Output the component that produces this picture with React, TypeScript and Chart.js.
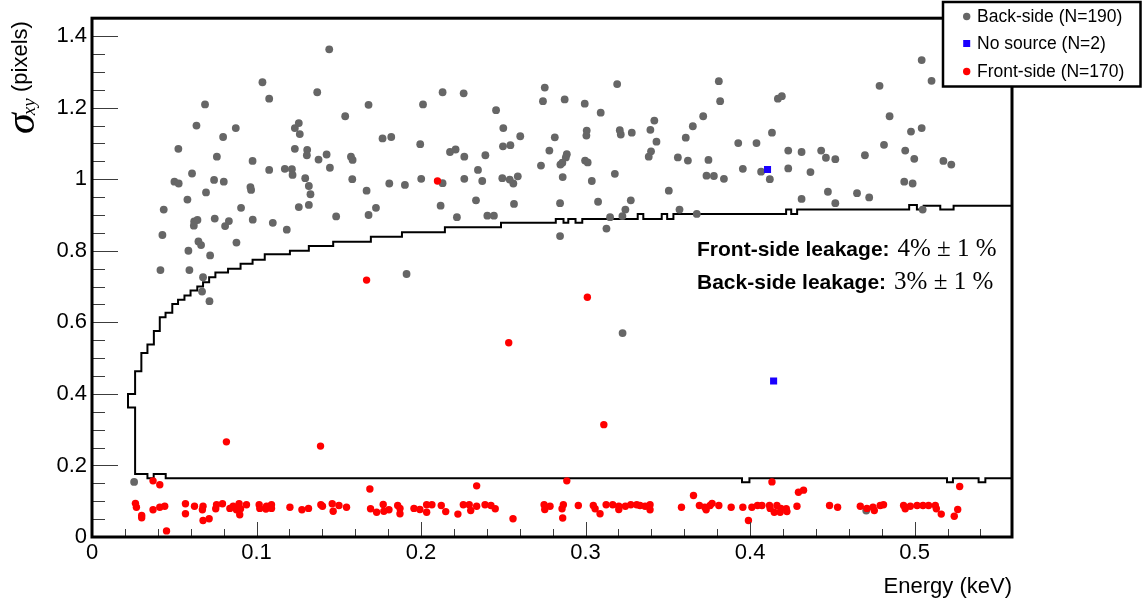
import React, { useEffect, useRef } from "react";
import { Chart, registerables } from "chart.js";

Chart.register(...registerables);

// ---------------- data ----------------
const X_MIN = 0;
const X_MAX = 0.5592;
const Y_MIN = 0;
const Y_MAX = 1.45;

const xTickValues = [0, 0.1, 0.2, 0.3, 0.4, 0.5];
const xTickLabels = ["0", "0.1", "0.2", "0.3", "0.4", "0.5"];
const yTickValues = [0, 0.2, 0.4, 0.6, 0.8, 1.0, 1.2, 1.4];
const yTickLabels = ["0", "0.2", "0.4", "0.6", "0.8", "1", "1.2", "1.4"];
const xMinorStep = 0.02;
const yMinorStep = 0.05;

const seriesLabels = ["Back-side (N=190)", "No source (N=2)", "Front-side (N=170)"];
const xAxisTitle = "Energy (keV)";
const yAxisSymbol = "σ";
const yAxisSubscript = "xy";
const yAxisUnit = "(pixels)";
const leakageLabels = ["Front-side leakage:", "Back-side leakage:"];
const leakageValues = ["4% ± 1 %", "3% ± 1 %"];

const backSide: [number, number][] = [
  [0.1442, 1.363], [0.1036, 1.271], [0.1077, 1.225], [0.0687, 1.209], [0.1369, 1.243],
  [0.1681, 1.208], [0.0635, 1.15], [0.0874, 1.143], [0.0797, 1.118], [0.0525, 1.085],
  [0.1233, 1.143], [0.1257, 1.157], [0.1263, 1.126], [0.1539, 1.176], [0.1766, 1.114],
  [0.1819, 1.118], [0.0759, 1.063], [0.0976, 1.051], [0.1233, 1.085], [0.1308, 1.082],
  [0.1306, 1.067], [0.1377, 1.055], [0.1426, 1.069], [0.1446, 1.032], [0.1574, 1.063],
  [0.1584, 1.054], [0.1077, 1.026], [0.1172, 1.029], [0.1215, 1.028], [0.1219, 1.012],
  [0.1296, 1.003], [0.1318, 0.981], [0.1328, 0.958], [0.1582, 1.0], [0.1669, 0.968],
  [0.1807, 0.988], [0.0501, 0.993], [0.0527, 0.988], [0.0608, 1.016], [0.0742, 0.998],
  [0.0801, 0.993], [0.0963, 0.978], [0.0967, 0.97], [0.0693, 0.963], [0.058, 0.943],
  [0.0906, 0.92], [0.1257, 0.922], [0.1318, 0.928], [0.1484, 0.896], [0.1681, 0.9],
  [0.1726, 0.92], [0.0436, 0.915], [0.0746, 0.89], [0.0832, 0.883], [0.0809, 0.869],
  [0.0621, 0.882], [0.0641, 0.886], [0.0619, 0.87], [0.0977, 0.887], [0.1099, 0.878],
  [0.1184, 0.859], [0.0428, 0.844], [0.0586, 0.8], [0.0647, 0.826], [0.0663, 0.816],
  [0.0718, 0.787], [0.0878, 0.823], [0.0416, 0.746], [0.0592, 0.746], [0.0675, 0.726],
  [0.0669, 0.686], [0.0714, 0.659], [0.1902, 0.984], [0.1912, 0.735], [0.0256, 0.154],
  [0.381, 1.274], [0.3818, 1.218], [0.3192, 1.266], [0.2752, 1.256], [0.2741, 1.218],
  [0.2873, 1.223], [0.2995, 1.211], [0.2131, 1.243], [0.2259, 1.24], [0.2012, 1.209],
  [0.2456, 1.193], [0.3092, 1.186], [0.1995, 1.098], [0.25, 1.143], [0.2498, 1.092],
  [0.2543, 1.095], [0.2603, 1.12], [0.2176, 1.076], [0.221, 1.083], [0.2263, 1.063],
  [0.2391, 1.067], [0.2813, 1.117], [0.278, 1.08], [0.2886, 1.07], [0.288, 1.061],
  [0.2859, 1.046], [0.2847, 1.041], [0.2729, 1.038], [0.3007, 1.136], [0.3005, 1.122],
  [0.2997, 1.052], [0.3013, 1.047], [0.3208, 1.137], [0.3214, 1.125], [0.3281, 1.13],
  [0.3394, 1.138], [0.3418, 1.164], [0.3431, 1.105], [0.3398, 1.078], [0.3384, 1.063],
  [0.3652, 1.148], [0.3715, 1.176], [0.3609, 1.116], [0.3561, 1.061], [0.3622, 1.052],
  [0.3747, 1.054], [0.3928, 1.101], [0.4039, 1.101], [0.4133, 1.13], [0.4169, 1.225],
  [0.3956, 1.029], [0.4067, 1.021], [0.412, 1.0], [0.3735, 1.01], [0.378, 1.009],
  [0.3841, 1.001], [0.3178, 1.015], [0.3038, 0.995], [0.2861, 1.006], [0.2588, 1.008],
  [0.2561, 0.988], [0.2539, 0.999], [0.2494, 1.003], [0.2372, 0.995], [0.2346, 1.026],
  [0.2263, 1.001], [0.2131, 0.989], [0.2001, 1.001], [0.2119, 0.926], [0.2218, 0.894],
  [0.2334, 0.941], [0.2403, 0.898], [0.2443, 0.898], [0.2565, 0.931], [0.2845, 0.933],
  [0.3076, 0.937], [0.3242, 0.915], [0.3275, 0.941], [0.3224, 0.897], [0.3149, 0.894],
  [0.3127, 0.862], [0.2845, 0.841], [0.3506, 0.968], [0.3571, 0.915], [0.3676, 0.903],
  [0.3225, 0.57], [0.5043, 1.333], [0.5103, 1.275], [0.4787, 1.261], [0.4193, 1.232],
  [0.4848, 1.176], [0.4978, 1.133], [0.5043, 1.143], [0.4814, 1.096], [0.4232, 1.08],
  [0.4313, 1.076], [0.4432, 1.08], [0.4461, 1.06], [0.4518, 1.056], [0.4698, 1.067],
  [0.4943, 1.08], [0.4998, 1.057], [0.5175, 1.051], [0.5223, 1.041], [0.4232, 1.03],
  [0.4367, 1.02], [0.4937, 0.993], [0.4988, 0.988], [0.4313, 0.945], [0.4473, 0.965],
  [0.4518, 0.933], [0.465, 0.961], [0.4724, 0.949], [0.5049, 0.915], [0.4706, 0.074],
];

const noSource: [number, number][] = [
  [0.4106, 1.027], [0.4143, 0.436],
];

const frontSide: [number, number][] = [
  [0.21, 0.995], [0.1669, 0.718], [0.0817, 0.266], [0.1389, 0.254], [0.3011, 0.67],
  [0.2533, 0.543], [0.3111, 0.314],
  [0.0371, 0.157], [0.0412, 0.146], [0.0264, 0.094], [0.027, 0.083], [0.0302, 0.06],
  [0.0302, 0.054], [0.0371, 0.076], [0.0412, 0.083], [0.0442, 0.086], [0.0453, 0.017],
  [0.0568, 0.093], [0.0568, 0.065], [0.0623, 0.086], [0.0675, 0.086], [0.0671, 0.076],
  [0.0675, 0.046], [0.0712, 0.051], [0.0757, 0.09], [0.0752, 0.079], [0.0793, 0.093],
  [0.0838, 0.08], [0.0858, 0.086], [0.0878, 0.076], [0.0894, 0.093], [0.0898, 0.062],
  [0.0903, 0.079], [0.0939, 0.09], [0.1016, 0.09], [0.102, 0.08], [0.1061, 0.086],
  [0.1091, 0.09], [0.1091, 0.08], [0.1203, 0.083], [0.1276, 0.076], [0.1316, 0.08],
  [0.1391, 0.09], [0.1401, 0.086],
  [0.1057, 0.078], [0.146, 0.093], [0.1466, 0.072], [0.1501, 0.088], [0.1547, 0.083],
  [0.1689, 0.134], [0.1693, 0.079], [0.173, 0.069], [0.177, 0.091], [0.1774, 0.072],
  [0.1805, 0.076], [0.1858, 0.088], [0.1872, 0.065],
  [0.1872, 0.08], [0.1957, 0.08], [0.1993, 0.077], [0.2034, 0.09], [0.2034, 0.069],
  [0.2066, 0.09], [0.2123, 0.088], [0.215, 0.071], [0.2224, 0.064], [0.2257, 0.09],
  [0.2293, 0.09], [0.2302, 0.074], [0.2338, 0.143], [0.2338, 0.086], [0.2389, 0.09],
  [0.2425, 0.088], [0.2451, 0.079], [0.2559, 0.051],
  [0.2886, 0.157], [0.2748, 0.09], [0.2752, 0.077], [0.2784, 0.086], [0.2857, 0.079],
  [0.2865, 0.09], [0.2861, 0.053], [0.2956, 0.088], [0.3047, 0.088], [0.3058, 0.079],
  [0.3088, 0.065], [0.3125, 0.09], [0.3165, 0.09], [0.3202, 0.086], [0.3202, 0.077],
  [0.3242, 0.086], [0.3275, 0.09], [0.3311, 0.09], [0.3331, 0.088], [0.3362, 0.086],
  [0.3392, 0.09], [0.3392, 0.076], [0.3583, 0.083], [0.3656, 0.116], [0.3692, 0.088],
  [0.3725, 0.083], [0.3733, 0.076], [0.3757, 0.088], [0.3769, 0.094], [0.381, 0.088],
  [0.3885, 0.083], [0.3956, 0.083], [0.399, 0.046],
  [0.4133, 0.154], [0.4011, 0.083], [0.4045, 0.088], [0.4072, 0.088], [0.4118, 0.088],
  [0.4122, 0.08], [0.4147, 0.069], [0.4163, 0.088], [0.4183, 0.069], [0.4187, 0.08],
  [0.422, 0.079], [0.4224, 0.071], [0.4285, 0.086], [0.4294, 0.125], [0.4325, 0.131],
  [0.4483, 0.088], [0.4532, 0.083], [0.467, 0.086], [0.471, 0.08], [0.4747, 0.083],
  [0.4755, 0.074], [0.4791, 0.088], [0.4811, 0.09], [0.4933, 0.088], [0.4943, 0.079],
  [0.4974, 0.086], [0.5015, 0.088], [0.5051, 0.088], [0.5085, 0.088], [0.5126, 0.088],
  [0.5132, 0.079], [0.5162, 0.064], [0.5241, 0.058], [0.5262, 0.077], [0.5274, 0.141],
];

// selection contour (corner points, in data units)
const contour: [number, number][] = [
  [0.5592, 0.164], [0.543, 0.164], [0.543, 0.153], [0.5389, 0.153], [0.5389, 0.164],
  [0.5233, 0.164], [0.5233, 0.153], [0.5197, 0.153], [0.5197, 0.164],
  [0.3996, 0.164], [0.3996, 0.153], [0.3951, 0.153], [0.3951, 0.164],
  [0.0448, 0.164], [0.0448, 0.176], [0.0375, 0.176], [0.0375, 0.164], [0.0337, 0.164],
  [0.0337, 0.176], [0.0262, 0.176],
  [0.0262, 0.362], [0.0219, 0.362], [0.0219, 0.4], [0.0262, 0.4], [0.0262, 0.463],
  [0.03, 0.463], [0.03, 0.514], [0.0337, 0.514], [0.0337, 0.538], [0.0376, 0.538],
  [0.0376, 0.576], [0.0412, 0.576], [0.0412, 0.614], [0.0447, 0.614], [0.0447, 0.627],
  [0.0488, 0.627], [0.0488, 0.651], [0.0523, 0.651], [0.0523, 0.663], [0.0562, 0.663],
  [0.0562, 0.675], [0.0599, 0.675], [0.0599, 0.689], [0.064, 0.689], [0.064, 0.7],
  [0.0675, 0.7], [0.0675, 0.712], [0.0712, 0.712], [0.0712, 0.726], [0.075, 0.726],
  [0.075, 0.739], [0.0827, 0.739], [0.0827, 0.75], [0.0903, 0.75], [0.0903, 0.764],
  [0.0976, 0.764], [0.0976, 0.775], [0.105, 0.775], [0.105, 0.79], [0.1203, 0.79],
  [0.1203, 0.8], [0.1318, 0.8], [0.1318, 0.813], [0.1466, 0.813], [0.1466, 0.825],
  [0.1695, 0.825], [0.1695, 0.839], [0.1884, 0.839], [0.1884, 0.852], [0.2145, 0.852],
  [0.2145, 0.866], [0.2486, 0.866], [0.2486, 0.878], [0.2819, 0.878],
  [0.2819, 0.889], [0.2866, 0.889], [0.2866, 0.878], [0.2895, 0.878], [0.2895, 0.889],
  [0.2939, 0.889], [0.2939, 0.878], [0.298, 0.878], [0.298, 0.889],
  [0.3317, 0.889], [0.3317, 0.903], [0.3351, 0.903], [0.3351, 0.889],
  [0.3463, 0.889], [0.3463, 0.903], [0.3496, 0.903], [0.3496, 0.889], [0.3534, 0.889],
  [0.3534, 0.903], [0.4219, 0.903], [0.4219, 0.915], [0.425, 0.915], [0.425, 0.903],
  [0.4286, 0.903], [0.4286, 0.915], [0.4967, 0.915], [0.4967, 0.928], [0.5014, 0.928],
  [0.5014, 0.915], [0.5055, 0.915], [0.5055, 0.926], [0.5156, 0.926], [0.5156, 0.915],
  [0.5237, 0.915], [0.5237, 0.926], [0.5592, 0.926],
];

// ---------------- styling ----------------
const SANS = '"Liberation Sans", Arial, Helvetica, sans-serif';
const SERIF = '"Liberation Serif", "Times New Roman", serif';
const GRAY = "#666666";
const RED = "#ff0000";
const BLUE = "#1a00ff";

const toPts = (arr: [number, number][]) => arr.map(([x, y]) => ({ x, y }));

const rootStylePlugin = {
  id: "rootStyle",
  afterDraw(chart: any) {
    const ctx: CanvasRenderingContext2D = chart.ctx;
    const { left, right, top, bottom } = chart.chartArea;
    const xs = chart.scales.x;
    const ys = chart.scales.y;
    ctx.save();

    // inward ticks
    ctx.strokeStyle = "#3c3c3c";
    ctx.lineWidth = 1;
    for (let k = 0; k * xMinorStep <= X_MAX + 1e-9; k++) {
      const v = k * xMinorStep;
      const major = k % 5 === 0;
      const px = Math.round(xs.getPixelForValue(v)) + 0.5;
      ctx.beginPath();
      ctx.moveTo(px, bottom);
      ctx.lineTo(px, bottom - (major ? 15 : 8));
      ctx.stroke();
    }
    for (let k = 0; k * yMinorStep <= Y_MAX + 1e-9; k++) {
      const v = k * yMinorStep;
      const major = k % 4 === 0;
      const py = Math.round(ys.getPixelForValue(v)) + 0.5;
      ctx.beginPath();
      ctx.moveTo(left, py);
      ctx.lineTo(left + (major ? 26 : 13), py);
      ctx.stroke();
    }

    // frame
    ctx.strokeStyle = "#000";
    ctx.lineWidth = 3;
    ctx.strokeRect(left, top, right - left, bottom - top);

    // x axis title
    ctx.fillStyle = "#000";
    ctx.font = `22px ${SANS}`;
    ctx.textAlign = "right";
    ctx.textBaseline = "alphabetic";
    ctx.fillText(xAxisTitle, right, 593);

    // y axis title (rotated)
    ctx.save();
    ctx.rotate(-Math.PI / 2);
    ctx.textAlign = "left";
    ctx.font = `italic 42px ${SERIF}`;
    ctx.fillText(yAxisSymbol, -134, 34);
    const sw = ctx.measureText(yAxisSymbol).width;
    ctx.font = `italic 19px ${SERIF}`;
    ctx.fillText(yAxisSubscript, -134 + sw - 2, 35);
    ctx.font = `22px ${SANS}`;
    ctx.fillText(yAxisUnit, -92, 27);
    ctx.restore();

    // leakage annotations
    const baselines = [256, 289];
    for (let i = 0; i < 2; i++) {
      ctx.textAlign = "left";
      ctx.font = `bold 21px ${SANS}`;
      ctx.fillText(leakageLabels[i], 697, baselines[i]);
      const w = ctx.measureText(leakageLabels[i]).width;
      ctx.font = `25px ${SERIF}`;
      ctx.fillText(leakageValues[i], 697 + w + 8, baselines[i]);
    }

    // legend box
    const lx = 943, ly = 2, lw = 197.5, lh = 84.5;
    ctx.fillStyle = "#fff";
    ctx.fillRect(lx, ly, lw, lh);
    ctx.strokeStyle = "#000";
    ctx.lineWidth = 2.5;
    ctx.strokeRect(lx, ly, lw, lh);
    const rows = [16.5, 43.5, 71.5];
    const mx = 966.7;
    ctx.fillStyle = GRAY;
    ctx.beginPath();
    ctx.arc(mx, rows[0], 3.7, 0, Math.PI * 2);
    ctx.fill();
    ctx.fillStyle = BLUE;
    ctx.fillRect(mx - 3.5, rows[1] - 3.5, 7, 7);
    ctx.fillStyle = RED;
    ctx.beginPath();
    ctx.arc(mx, rows[2], 3.7, 0, Math.PI * 2);
    ctx.fill();
    ctx.fillStyle = "#000";
    ctx.font = `17.5px ${SANS}`;
    ctx.textBaseline = "middle";
    ctx.textAlign = "left";
    for (let i = 0; i < 3; i++) ctx.fillText(seriesLabels[i], 977, rows[i] + 0.5);

    ctx.restore();
  },
};

export default function App() {
  const ref = useRef<HTMLCanvasElement | null>(null);

  useEffect(() => {
    if (!ref.current) return;
    const chart = new Chart(ref.current, {
      type: "scatter",
      data: {
        datasets: [
          {
            label: seriesLabels[2],
            data: toPts(frontSide),
            pointRadius: 3.7,
            pointBackgroundColor: RED,
            backgroundColor: RED,
            pointBorderWidth: 0,
            borderWidth: 0,
            order: 0,
          } as any,
          {
            label: seriesLabels[1],
            data: toPts(noSource),
            pointStyle: "rect",
            pointRadius: 5,
            pointBackgroundColor: BLUE,
            backgroundColor: BLUE,
            pointBorderWidth: 0,
            borderWidth: 0,
            order: 1,
          } as any,
          {
            label: seriesLabels[0],
            data: toPts(backSide),
            pointRadius: 3.9,
            pointBackgroundColor: GRAY,
            backgroundColor: GRAY,
            pointBorderWidth: 0,
            borderWidth: 0,
            order: 2,
          } as any,
          {
            label: "contour",
            data: toPts(contour),
            showLine: true,
            borderColor: "#000",
            borderWidth: 2,
            pointRadius: 0,
            fill: false,
            tension: 0,
            order: 3,
          } as any,
        ],
      },
      options: {
        responsive: false,
        animation: false,
        devicePixelRatio: 1,
        events: [],
        layout: { padding: { left: 0, top: 14, right: 133, bottom: 0 } },
        plugins: {
          legend: { display: false },
          tooltip: { enabled: false },
          title: { display: false },
        },
        scales: {
          x: {
            type: "linear",
            position: "bottom",
            min: X_MIN,
            max: X_MAX,
            grid: { display: false, drawTicks: false },
            border: { display: false },
            afterBuildTicks: (s: any) => {
              s.ticks = xTickValues.map((v) => ({ value: v }));
            },
            afterFit: (s: any) => {
              s.height = 71;
            },
            ticks: {
              autoSkip: false,
              maxRotation: 0,
              minRotation: 0,
              padding: 3,
              color: "#000",
              font: { family: SANS, size: 22 },
              callback: (_v: any, i: number) => xTickLabels[i],
            },
          },
          y: {
            type: "linear",
            position: "left",
            min: Y_MIN,
            max: Y_MAX,
            grid: { display: false, drawTicks: false },
            border: { display: false },
            afterBuildTicks: (s: any) => {
              s.ticks = yTickValues.map((v) => ({ value: v }));
            },
            afterFit: (s: any) => {
              s.width = 92;
            },
            ticks: {
              autoSkip: false,
              padding: 5,
              color: "#000",
              font: { family: SANS, size: 22 },
              callback: (_v: any, i: number) => yTickLabels[i],
            },
          },
        },
      } as any,
      plugins: [rootStylePlugin],
    });
    return () => chart.destroy();
  }, []);

  return (
    <div style={{ position: "absolute", left: 0, top: 0, width: 1145, height: 608, background: "#fff" }}>
      <canvas ref={ref} width={1145} height={608} style={{ display: "block" }} />
    </div>
  );
}
